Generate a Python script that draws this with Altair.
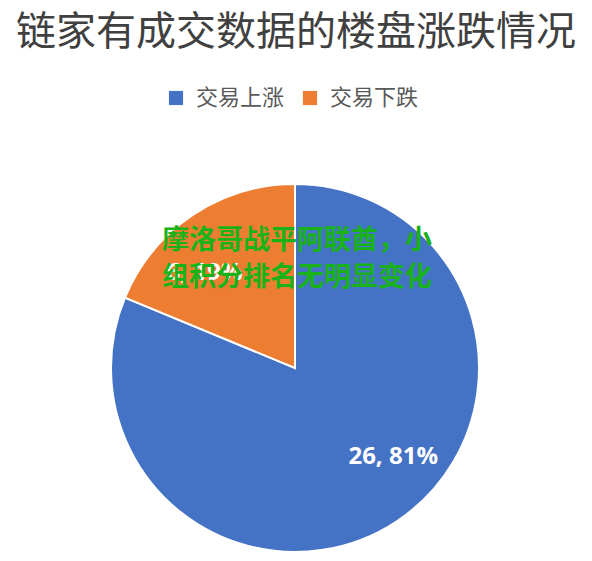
import altair as alt
import pandas as pd

categories = ["交易上涨", "交易下跌"]
values = [26, 6]
labels = ["26, 81%", "6, 19%"]
order = [0, 1]
colors = ["#4472C4", "#ED7D31"]

title_text = "链家有成交数据的楼盘涨跌情况"
overlay_lines = ["摩洛哥战平阿联酋，小", "组积分排名无明显变化"]

df = pd.DataFrame({"cat": categories, "val": values, "label": labels, "ord": order})

W, H = 576, 545
CX, CY, R = 287, 360, 184
FONT = "Noto Sans CJK SC"

pie = alt.Chart(df).mark_arc(stroke="white", strokeWidth=2).encode(
    theta=alt.Theta("val:Q", stack=True),
    order=alt.Order("ord:Q"),
    x=alt.value(CX),
    y=alt.value(CY),
    radius=alt.value(R),
    color=alt.Color(
        "cat:N",
        scale=alt.Scale(domain=categories, range=colors),
        sort=categories,
        legend=alt.Legend(
            title=None,
            orient="none",
            legendX=157,
            legendY=79,
            direction="horizontal",
            symbolType="square",
            symbolSize=200,
            symbolStrokeWidth=0,
            labelFont=FONT,
            labelFontSize=22,
            labelColor="#595959",
            labelOffset=9,
            columnPadding=14,
        ),
    ),
)


def label_layer(idx, dx, dy):
    return alt.Chart(df).transform_stack(
        stack="val", groupby=[], as_=["s0", "s1"], sort=[alt.SortField("ord")]
    ).transform_calculate(
        mid="(datum.s0 + datum.s1) / 2"
    ).transform_filter(alt.datum.ord == idx).mark_text(
        font="Open Sans", fontWeight="bold", fontSize=24, color="white", dx=dx, dy=dy
    ).encode(
        theta=alt.Theta("mid:Q", scale=alt.Scale(domain=[0, sum(values)])),
        x=alt.value(CX), y=alt.value(CY), radius=alt.value(130), text="label:N",
    )


lab_blue = label_layer(0, 26, -19)
lab_orange = label_layer(1, -18, 13)

title = alt.Chart(pd.DataFrame({"t": [title_text]})).mark_text(
    font=FONT, fontSize=40, color="#404040", baseline="middle", align="center"
).encode(x=alt.value(288), y=alt.value(25), text="t:N")

overlay = alt.Chart(pd.DataFrame({"t": [overlay_lines]})).mark_text(
    font=FONT, fontSize=27, fontWeight="bold", color="#19b319",
    baseline="middle", align="center", lineHeight=37,
).encode(x=alt.value(289), y=alt.value(233), text="t")

chart = alt.layer(pie, lab_blue, lab_orange, title, overlay).resolve_scale(
    theta="independent"
).properties(
    width=W, height=H, autosize=alt.AutoSizeParams(type="none"), padding=0,
    background="white",
).configure_view(stroke=None)

chart.save("out.html", embed_options={"renderer": "svg", "actions": False})
